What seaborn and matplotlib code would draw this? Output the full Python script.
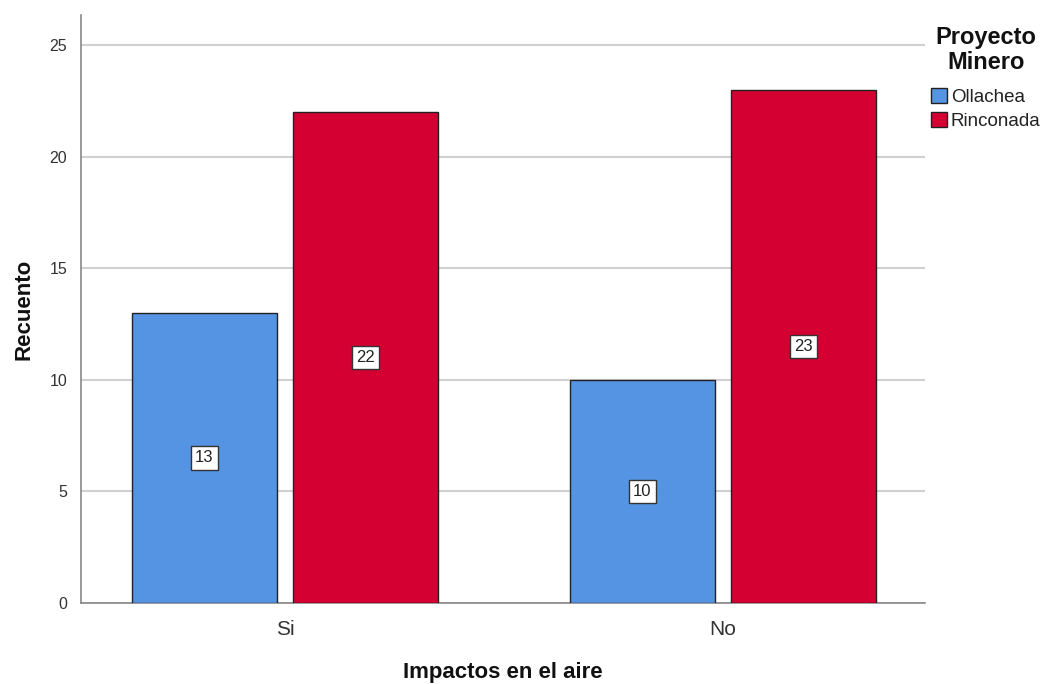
import matplotlib
matplotlib.use("Agg")
import matplotlib.pyplot as plt
import seaborn as sns
import pandas as pd
from matplotlib.patches import Patch

# Counts of responses by mining project
categorias = ["Si", "No"]
proyectos = ["Ollachea", "Rinconada"]
ollachea = [13, 10]
rinconada = [22, 23]

df = pd.DataFrame({
    "Impactos en el aire": categorias * 2,
    "Proyecto Minero": [proyectos[0]] * 2 + [proyectos[1]] * 2,
    "Recuento": ollachea + rinconada,
})

sns.set_theme(style="white")
plt.rcParams["font.family"] = ["Liberation Sans", "DejaVu Sans"]

colores = {"Ollachea": "#5594E3", "Rinconada": "#D50032"}

fig = plt.figure(figsize=(10.45, 6.84), dpi=100)
ax = fig.add_axes([0.0775, 0.1184, 0.8077, 0.8596])

sns.barplot(
    data=df, x="Impactos en el aire", y="Recuento", hue="Proyecto Minero",
    order=categorias, hue_order=proyectos, palette=colores, saturation=1,
    width=0.737, gap=0.102, edgecolor="#222222", linewidth=1.0,
    legend=False, ax=ax, zorder=3,
)

# Value labels at mid-height of each bar
for cont in ax.containers:
    for bar in cont:
        h = bar.get_height()
        ax.text(
            bar.get_x() + bar.get_width() / 2, h / 2, f"{int(round(h))}",
            ha="center", va="center", fontsize=12, color="#222222", zorder=5,
            bbox=dict(boxstyle="square,pad=0.25", facecolor="white",
                      edgecolor="#333333", linewidth=1.0),
        )

ax.set_xlim(-0.466, 1.461)
ax.set_ylim(0, 26.34)
ax.set_yticks([0, 5, 10, 15, 20, 25])
ax.yaxis.grid(True, color="#d0d0d0", linewidth=1.5, zorder=0)
ax.set_axisbelow(True)

for s in ["top", "right"]:
    ax.spines[s].set_visible(False)
for s in ["left", "bottom"]:
    ax.spines[s].set_color("#888888")
    ax.spines[s].set_linewidth(1.2)

ax.tick_params(axis="y", length=0, labelsize=11.5, labelcolor="#333333", pad=10)
ax.tick_params(axis="x", length=0, labelsize=15, labelcolor="#333333", pad=12)

ax.set_xlabel("Impactos en el aire", fontsize=16, fontweight="bold",
              color="#111111", labelpad=17)
ax.set_ylabel("Recuento", fontsize=16, fontweight="bold",
              color="#111111", labelpad=11)

# Legend: centred bold title, then the two swatches
fig.text(986 / 1045, 1 - 50 / 684, "Proyecto\nMinero", ha="center",
         va="center", fontsize=17, fontweight="bold", color="#111111",
         linespacing=1.15, multialignment="center")

handles = [Patch(facecolor=colores[p], edgecolor="#222222", linewidth=1.0)
           for p in proyectos]
fig.legend(
    handles, proyectos,
    loc="upper left", bbox_to_anchor=(931 / 1045, 1 - 88 / 684),
    frameon=False, fontsize=13.5, labelcolor="#222222",
    handlelength=0.85, handleheight=0.85, handletextpad=0.2,
    labelspacing=0.3, borderaxespad=0, borderpad=0,
)

fig.savefig("out.png", dpi=100)
